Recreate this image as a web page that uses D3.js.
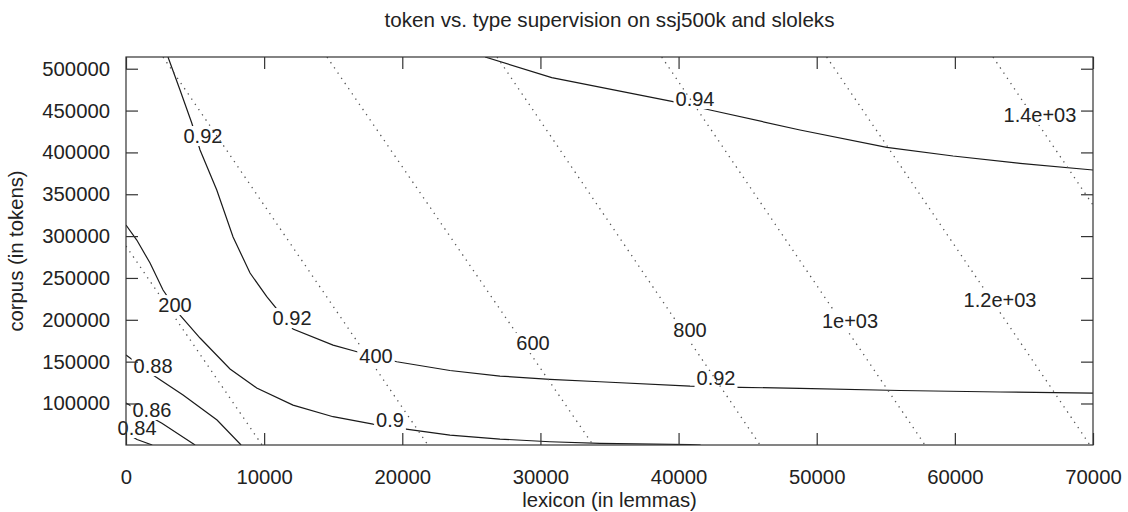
<!DOCTYPE html>
<html>
<head>
<meta charset="utf-8">
<script src="https://cdn.jsdelivr.net/npm/d3@7"></script>
<style>
  body { margin: 0; background: #fff; }
  text { font-family: "Liberation Sans", Helvetica, Arial, sans-serif; fill: #222; }
</style>
</head>
<body>
<div id="chart"></div>
<script>
// axis ticks
const lexTicks = [0, 10000, 20000, 30000, 40000, 50000, 60000, 70000];
const corpusTicks = [100000, 150000, 200000, 250000, 300000, 350000, 400000, 450000, 500000];

// accuracy contours (solid), points as [lexicon, corpus]
const acc084 = [[0, 64700], [800, 56900], [1900, 50400]];
const acc086 = [[0, 100500], [2600, 76400], [5000, 50400]];
const acc088 = [[0, 157900], [1950, 134000], [4130, 110100], [6590, 80200], [8330, 50400]];
const acc090 = [[0, 313200], [780, 295300], [1740, 267800], [2680, 235600], [3910, 205700], [5360, 178200],
  [7530, 141200], [9460, 118500], [12090, 98100], [14990, 84200], [17880, 75400], [20410, 69100],
  [23450, 62300], [27070, 57500], [30690, 54300], [34310, 52400], [40830, 50900], [41600, 50400]];
const acc092 = [[3040, 514000], [3910, 474600], [4760, 435100], [5360, 402900], [6570, 355100], [7750, 298900],
  [8980, 255900], [10190, 227600], [12090, 189000], [14990, 169800], [16720, 161800], [19600, 149900],
  [23450, 139400], [27070, 132800], [30690, 128900], [34310, 126000], [40830, 120800], [44450, 119300],
  [48790, 118100], [56030, 115500], [63270, 113700], [70000, 112500]];
const acc094 = [[25990, 514000], [30820, 489300], [39600, 460600], [42280, 450700], [48790, 426800],
  [55070, 406100], [59870, 395700], [64720, 387000], [70000, 379000]];

// cost contours (dotted)
const cost200 = [[0, 288100], [9850, 50400]];
const cost400 = [[2680, 514000], [12360, 279800], [21860, 50400]];
const cost600 = [[14550, 514000], [33810, 50400]];
const cost800 = [[26860, 514000], [45900, 50400]];
const cost1000 = [[38780, 514000], [57840, 50400]];
const cost1200 = [[50720, 514000], [69780, 50400]];
const cost1400 = [[62760, 514000], [70000, 337100]];

// contour labels: [text, lexicon, corpus]
const accLabels = [["0.94", 41190, 463800], ["0.92", 5570, 419600], ["0.92", 12020, 202100], ["0.92", 42710, 130400],
  ["0.9", 19110, 80200], ["0.88", 1960, 144700], ["0.86", 1880, 92200], ["0.84", 800, 70700]];
const costLabels = [["200", 3550, 217600], ["400", 18100, 156700], ["600", 29460, 172200], ["800", 40830, 187800],
  ["1e+03", 52410, 198500], ["1.2e+03", 63270, 223600], ["1.4e+03", 66160, 444700]];

const accCurves = [["0.84", acc084], ["0.86", acc086], ["0.88", acc088], ["0.9", acc090], ["0.92", acc092], ["0.94", acc094]];
const costCurves = [["200", cost200], ["400", cost400], ["600", cost600], ["800", cost800],
  ["1e+03", cost1000], ["1.2e+03", cost1200], ["1.4e+03", cost1400]];

(function() {
var width = 1128, height = 512;
var pLeft = 126, pRight = 1093, pTop = 57, pBottom = 445;
var fontFamily = "'Liberation Sans', Helvetica, Arial, sans-serif";

var svg = d3.select("#chart").append("svg")
    .attr("width", width)
    .attr("height", height);

var x = d3.scaleLinear().domain([0, 70000]).range([pLeft, pRight]);
var y = d3.scaleLinear().domain([50400, 514000]).range([pBottom, pTop]);

var defs = svg.append("defs");
defs.append("clipPath").attr("id", "plotclip")
    .append("rect")
    .attr("x", pLeft).attr("y", pTop)
    .attr("width", pRight - pLeft).attr("height", pBottom - pTop);

var lineLayer = svg.append("g").attr("clip-path", "url(#plotclip)");
var labelLayer = svg.append("g");

// labels first, so the line gaps can be cut from their boxes
function addLabels(list, cls) {
  var boxes = {};
  list.forEach(function(d) {
    var t = labelLayer.append("text")
        .attr("class", cls)
        .attr("x", x(d[1]))
        .attr("y", y(d[2]))
        .attr("dy", "0.35em")
        .attr("text-anchor", "middle")
        .style("font-size", "20px")
        .text(d[0]);
    var b = t.node().getBBox();
    (boxes[d[0]] = boxes[d[0]] || []).push(b);
  });
  return boxes;
}
var accBoxes = addLabels(accLabels, "acc-label");
var costBoxes = addLabels(costLabels, "cost-label");
var allCostBoxes = [];
Object.keys(costBoxes).forEach(function(k) { allCostBoxes = allCostBoxes.concat(costBoxes[k]); });

var line = d3.line()
    .x(function(d) { return x(d[0]); })
    .y(function(d) { return y(d[1]); });

// dotted labels sit on top of solid lines too, solid labels only cut their own line
function drawCurves(curves, boxes, extraBoxes, prefix, styleFn) {
  curves.forEach(function(c, i) {
    var id = prefix + i;
    var m = defs.append("mask").attr("id", id)
        .attr("maskUnits", "userSpaceOnUse")
        .attr("x", 0).attr("y", 0).attr("width", width).attr("height", height);
    m.append("rect").attr("width", width).attr("height", height).attr("fill", "white");
    (boxes[c[0]] || []).concat(extraBoxes).forEach(function(b) {
      m.append("rect")
          .attr("x", b.x - 2).attr("y", b.y + 1)
          .attr("width", b.width + 4).attr("height", b.height - 2)
          .attr("fill", "black");
    });
    var p = lineLayer.append("path")
        .datum(c[1])
        .attr("d", line)
        .attr("fill", "none")
        .attr("mask", "url(#" + id + ")");
    styleFn(p);
  });
}

drawCurves(accCurves, accBoxes, allCostBoxes, "macc", function(p) {
  p.attr("stroke", "#1a1a1a").attr("stroke-width", 1.2);
});
drawCurves(costCurves, costBoxes, [], "mcost", function(p) {
  p.attr("stroke", "#555").attr("stroke-width", 1.3).attr("stroke-dasharray", "1.3,5");
});

// axes with inward ticks on all four sides
var axisG = svg.append("g");
axisG.append("g")
    .attr("transform", "translate(0," + pBottom + ")")
    .call(d3.axisBottom(x).tickValues(lexTicks).tickSize(-12).tickPadding(25).tickFormat(d3.format("d")));
axisG.append("g")
    .attr("transform", "translate(0," + pTop + ")")
    .call(d3.axisTop(x).tickValues(lexTicks).tickSize(-12).tickFormat(""));
axisG.append("g")
    .attr("transform", "translate(" + pLeft + ",0)")
    .call(d3.axisLeft(y).tickValues(corpusTicks).tickSize(-12).tickPadding(16).tickFormat(d3.format("d")));
axisG.append("g")
    .attr("transform", "translate(" + pRight + ",0)")
    .call(d3.axisRight(y).tickValues(corpusTicks).tickSize(-12).tickFormat(""));

axisG.selectAll(".domain").remove();
axisG.selectAll(".tick line").attr("stroke", "#333").attr("stroke-width", 1.2);
axisG.selectAll(".tick text")
    .attr("fill", "#222")
    .style("font-size", "20.3px")
    .style("font-family", fontFamily);

svg.append("rect")
    .attr("x", pLeft).attr("y", pTop)
    .attr("width", pRight - pLeft).attr("height", pBottom - pTop)
    .attr("fill", "none")
    .attr("stroke", "#333")
    .attr("stroke-width", 1.2);

svg.append("text")
    .attr("x", (pLeft + pRight) / 2)
    .attr("y", 20)
    .attr("dy", "0.35em")
    .attr("text-anchor", "middle")
    .style("font-size", "20.6px")
    .text("token vs. type supervision on ssj500k and sloleks");

svg.append("text")
    .attr("x", (pLeft + pRight) / 2)
    .attr("y", 500)
    .attr("dy", "0.35em")
    .attr("text-anchor", "middle")
    .style("font-size", "20.3px")
    .text("lexicon (in lemmas)");

svg.append("text")
    .attr("transform", "translate(16," + ((pTop + pBottom) / 2) + ") rotate(-90)")
    .attr("dy", "0.35em")
    .attr("text-anchor", "middle")
    .style("font-size", "20.3px")
    .text("corpus (in tokens)");
})();
</script>
</body>
</html>
